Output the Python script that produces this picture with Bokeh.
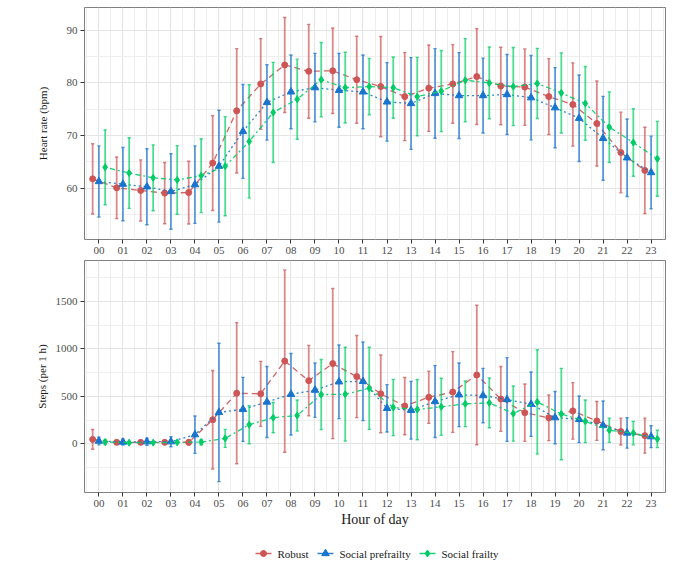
from bokeh.plotting import figure
from bokeh.models import FixedTicker, ColumnDataSource, Range1d
from bokeh.core.properties import value
from bokeh.layouts import column
from bokeh.embed import file_html
from bokeh.resources import INLINE

# ---- data -------------------------------------------------------------
hours = list(range(24))
hour_labels = ["00", "01", "02", "03", "04", "05", "06", "07", "08", "09", "10", "11",
               "12", "13", "14", "15", "16", "17", "18", "19", "20", "21", "22", "23"]
groups = ["Robust", "Social prefrailty", "Social frailty"]

# heart rate (bpm): mean and SD per hour
hr_robust = [61.8, 60.1, 59.6, 59.1, 59.2, 64.8, 74.7, 79.8, 83.4, 82.2, 82.3, 80.6,
             79.3, 77.4, 79.0, 79.8, 81.2, 79.4, 79.2, 77.4, 75.9, 72.3, 66.8, 63.4]
hr_robust_sd = [6.65, 5.85, 5.8, 5.8, 5.95, 9.0, 11.8, 8.6, 9.0, 8.9, 8.1, 8.25,
                9.5, 8.35, 8.2, 7.45, 9.1, 7.35, 7.25, 7.2, 7.9, 8.05, 7.65, 8.2]
hr_prefrail = [61.3, 60.8, 60.3, 59.4, 60.7, 64.2, 70.8, 76.3, 78.3, 79.1, 78.6, 78.3,
               76.4, 76.1, 78.0, 77.6, 77.6, 77.8, 77.2, 75.3, 73.3, 69.5, 65.8, 63.0]
hr_prefrail_sd = [6.75, 6.95, 7.2, 7.15, 7.35, 10.6, 8.9, 7.15, 7.0, 6.5, 7.0, 7.0,
                  7.45, 8.7, 8.5, 8.15, 7.1, 7.6, 8.0, 7.6, 8.2, 7.95, 7.35, 6.9]
hr_frail = [64.0, 62.9, 62.0, 61.6, 62.4, 64.2, 68.9, 74.4, 76.9, 80.6, 79.1, 79.3,
            79.1, 77.4, 78.45, 80.5, 80.0, 79.3, 79.9, 78.1, 76.1, 71.6, 68.7, 65.6]
hr_frail_sd = [7.1, 6.7, 6.25, 6.5, 7.0, 9.4, 10.75, 9.5, 7.6, 7.05, 6.7, 5.35,
               5.8, 7.45, 7.7, 7.9, 6.8, 7.4, 6.65, 7.6, 7.0, 6.7, 6.4, 7.1]

# steps per hour: mean and SD per hour
steps_robust = [45, 14, 14, 14, 14, 253, 533, 526, 872, 665, 845, 708,
                526, 397, 490, 545, 725, 472, 327, 273, 346, 240, 128, 85]
steps_robust_sd = [104, 14, 10, 10, 28, 520, 745, 343, 962, 372, 792, 433,
                   410, 302, 276, 426, 736, 342, 303, 241, 298, 205, 142, 185]
steps_prefrail = [28, 17, 21, 21, 95, 330, 362, 440, 521, 565, 653, 658,
                  373, 353, 445, 516, 508, 466, 417, 275, 257, 193, 113, 74]
steps_prefrail_sd = [40, 32, 38, 53, 197, 730, 338, 375, 430, 287, 389, 415,
                     250, 305, 379, 336, 287, 442, 340, 275, 246, 257, 160, 116]
steps_frail = [17, 11, 11, 14, 17, 56, 200, 275, 297, 518, 522, 584,
               382, 360, 389, 421, 431, 318, 441, 313, 236, 142, 112, 50]
steps_frail_sd = [27, 8, 8, 10, 28, 95, 200, 160, 164, 370, 495, 433,
                  297, 318, 301, 241, 262, 291, 551, 482, 225, 128, 124, 92]

hr_ticks = [60, 70, 80, 90]
hr_minor = [55, 65, 75, 85]
steps_ticks = [0, 500, 1000, 1500]
steps_minor = [-250, 250, 750, 1250, 1750]

# ---- styling ------------------------------------------------------------
FONT = "Liberation Serif"
colors = ["#CD5555", "#1874CD", "#00CD66"]
markers = ["circle", "triangle", "diamond"]
marker_sizes = [6, 7.5, 7]
dashes = ["6 4", "2 3", "2 3 5 3"]
dodge = [-0.26, 0.0, 0.26]
cap = 0.07


def make_panel(series, y_start, y_end, yticks, yminor, ylabel, label_standoff,
               top_border, bottom_border):
    p = figure(frame_width=581, frame_height=232, output_backend="svg",
               toolbar_location=None, x_range=Range1d(-0.6, 23.6),
               y_range=Range1d(y_start, y_end),
               min_border_left=84, min_border_right=17, min_border_top=top_border,
               min_border_bottom=bottom_border)
    p.background_fill_color = "white"
    p.border_fill_color = "white"
    p.outline_line_color = "#7F7F7F"
    p.outline_line_width = 1

    xt = FixedTicker(ticks=hours, minor_ticks=[h - 0.5 for h in hours] + [23.5])
    p.xaxis.ticker = xt
    p.xaxis.major_label_overrides = {h: lab for h, lab in zip(hours, hour_labels)}
    p.yaxis.ticker = FixedTicker(ticks=yticks, minor_ticks=yminor)

    for ax in (p.xaxis, p.yaxis):
        ax.axis_line_color = None
        ax.major_tick_line_color = "#333333"
        ax.major_tick_out = 4
        ax.major_tick_in = 0
        ax.minor_tick_out = 0
        ax.minor_tick_in = 0
        ax.major_label_text_font = FONT
        ax.major_label_text_font_size = "11px"
        ax.major_label_text_color = "#4D4D4D"
        ax.major_label_standoff = 3
        ax.axis_label_text_font = FONT
        ax.axis_label_text_font_style = "normal"
        ax.axis_label_text_color = "#1A1A1A"

    p.yaxis.axis_label = ylabel
    p.yaxis.axis_label_text_font_size = "11px"
    p.yaxis.axis_label_standoff = label_standoff

    for g in (p.xgrid, p.ygrid):
        g.grid_line_color = "#E4E4E4"
        g.grid_line_width = 1.1
        g.minor_grid_line_color = "#EBEBEB"
        g.minor_grid_line_width = 0.8

    for i, (mean, sd) in enumerate(series):
        x = [h + dodge[i] for h in hours]
        lo = [m - s for m, s in zip(mean, sd)]
        hi = [m + s for m, s in zip(mean, sd)]
        src = ColumnDataSource(dict(x=x, y=mean, lo=lo, hi=hi,
                                    xl=[v - cap for v in x], xr=[v + cap for v in x]))
        p.segment(x0="x", y0="lo", x1="x", y1="hi", source=src,
                  line_color=colors[i], line_alpha=0.7, line_width=1.8)
        p.segment(x0="xl", y0="hi", x1="xr", y1="hi", source=src,
                  line_color=colors[i], line_alpha=0.7, line_width=1.4)
        p.segment(x0="xl", y0="lo", x1="xr", y1="lo", source=src,
                  line_color=colors[i], line_alpha=0.7, line_width=1.4)
        p.line(x="x", y="y", source=src, line_color=colors[i],
               line_width=1.3, line_dash=dashes[i], line_alpha=0.9)
        p.scatter(x="x", y="y", source=src, marker=markers[i],
                  size=marker_sizes[i], fill_color=colors[i], line_color=colors[i])
    return p


p1 = make_panel([(hr_robust, hr_robust_sd), (hr_prefrail, hr_prefrail_sd),
                 (hr_frail, hr_frail_sd)],
                50.3, 94.3, hr_ticks, hr_minor, "Heart rate (bpm)", 15, 7, 20)

p2 = make_panel([(steps_robust, steps_robust_sd), (steps_prefrail, steps_prefrail_sd),
                 (steps_frail, steps_frail_sd)],
                -515, 1933, steps_ticks, steps_minor, "Steps (per 1 h)", 5, 1, 46)
p2.xaxis.axis_label = "Hour of day"
p2.xaxis.axis_label_text_font_size = "14px"
p2.xaxis.axis_label_standoff = 2

# ---- shared legend strip ------------------------------------------------
# the column aligns this frame with the panels above (x 84..665 on the page),
# so the x range is expressed in page pixels
p3 = figure(width=682, height=36, output_backend="svg", toolbar_location=None,
            x_range=Range1d(84, 665), y_range=Range1d(0, 36),
            x_axis_location=None, y_axis_location=None,
            min_border=0, min_border_left=0, min_border_right=0,
            min_border_top=0, min_border_bottom=0)
p3.outline_line_color = None
p3.xgrid.visible = False
p3.ygrid.visible = False
p3.background_fill_color = "white"
p3.border_fill_color = "white"

key_x = [263, 325, 427]   # key centres across the strip
key_y = 21
for i, g in enumerate(groups):
    cx = key_x[i]
    p3.line(x=[cx - 8, cx + 8], y=[key_y, key_y], line_color=colors[i],
            line_width=1.3, line_dash="solid", line_alpha=0.9)
    p3.scatter(x=[cx], y=[key_y], marker=markers[i], size=marker_sizes[i],
               fill_color=colors[i], line_color=colors[i])
p3.text(x=[k + 14 for k in key_x], y=[key_y] * 3, text=groups,
        text_font=value(FONT), text_font_size="11px", text_color="#1A1A1A",
        text_align="left", text_baseline="middle")

layout = column(p1, p2, p3, spacing=0)
open("out.html", "w").write(file_html(layout, INLINE))
